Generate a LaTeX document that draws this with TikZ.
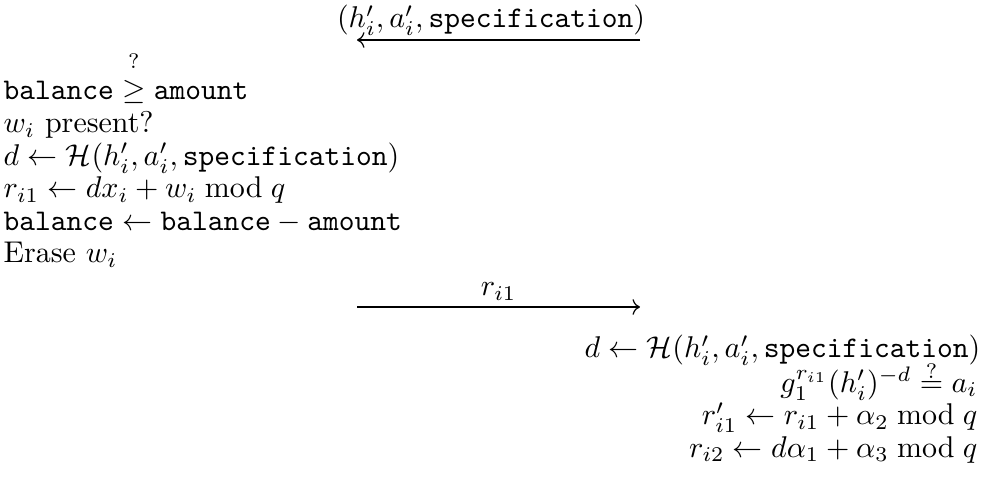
\documentclass[tikz,border=0pt]{standalone}
\usepackage{amsmath, amssymb}
\usetikzlibrary{arrows.meta}

\begin{document}
\begin{tikzpicture}[x=0.3333pt, y=-0.3333pt,
    msg/.style={-{Computer Modern Rightarrow}},
    lstep/.style={anchor=base west, inner sep=0pt},
    rstep/.style={anchor=base east, inner sep=0pt}]
  \useasboundingbox (0,0) rectangle (987,483);
  % First message
  \coordinate (m1l) at (357,40);
  \coordinate (m1r) at (640,40);
  \draw[msg] (m1r) -- (m1l) node[midway, above, inner sep=1.2pt, xshift=-2.5pt] (m1) {$(h'_i, a'_i, \texttt{specification})$};
  % Left side
  \node[lstep] (l0) at (3,100) {$\texttt{balance} \stackrel{\raisebox{2pt}{$\scriptstyle ?$}}{\geq} \texttt{amount}$};
  \node[lstep] (l1) at (3,132.6) {$w_i$ present?};
  \node[lstep] (l2) at (3,165.2) {$d \gets \mathcal{H}(h'_i, a'_i, \texttt{specification})$};
  \node[lstep] (l3) at (3,197.8) {$r_{i1} \gets d x_i + w_i \bmod q$};
  \node[lstep] (l4) at (3,230.4) {$\texttt{balance} \gets \texttt{balance} - \texttt{amount}$};
  \node[lstep] (l5) at (3,263) {Erase $w_i$};
  % Second message
  \coordinate (m2l) at (357,307);
  \coordinate (m2r) at (640,307);
  \draw[msg] (m2l) -- (m2r) node[midway, above, inner sep=2pt] (m2) {$r_{i1}$};
  % Right side
  \node[rstep] (r0) at (981,358) {$d \gets \mathcal{H}(h'_i, a'_i, \texttt{specification})$};
  \node[rstep] (r1) at (978,392.5) {$g_1^{r_{i1}} (h'_i)^{-d} \stackrel{\raisebox{-1pt}{$\scriptstyle ?$}}{=} a_i$};
  \node[rstep] (r2) at (978,425) {$r'_{i1} \gets r_{i1} + \alpha_2 \bmod q$};
  \node[rstep] (r3) at (978,457.5) {$r_{i2} \gets d\alpha_1 + \alpha_3 \bmod q$};
\end{tikzpicture}
\end{document}
